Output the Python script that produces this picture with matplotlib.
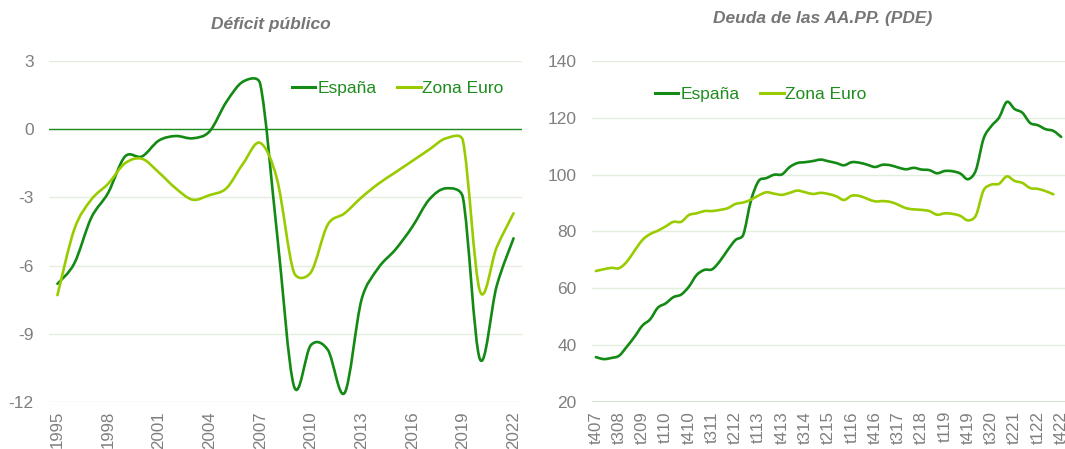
import numpy as np
import matplotlib
matplotlib.use("Agg")
import matplotlib.pyplot as plt
from matplotlib.path import Path
from matplotlib.patches import PathPatch
from matplotlib.lines import Line2D

# ---------------- data ----------------
years = [str(y) for y in range(1995, 2023)]
deficit_espana = [-6.8, -5.9, -3.9, -2.8, -1.2, -1.2, -0.5, -0.3, -0.4, -0.1,
                  1.2, 2.1, 2.0, -4.6, -11.3, -9.5, -9.7, -11.6, -7.5, -6.1,
                  -5.3, -4.3, -3.1, -2.6, -3.0, -10.1, -6.9, -4.8]
deficit_euro = [-7.3, -4.4, -3.1, -2.4, -1.5, -1.3, -1.9, -2.6, -3.1, -2.9,
                -2.6, -1.5, -0.6, -2.2, -6.3, -6.3, -4.2, -3.7, -3.0, -2.4,
                -1.9, -1.4, -0.9, -0.4, -0.5, -7.1, -5.2, -3.7]

quarters = ["t407"] + [f"t{q}{yy:02d}" for yy in range(8, 23) for q in (1, 2, 3, 4)]
deuda_espana = [35.8, 35.1, 35.5, 36.3, 39.5, 43.0, 46.9, 49.1, 53.2, 54.7,
                56.9, 57.8, 60.6, 64.7, 66.5, 66.7, 69.6, 73.5, 77.0, 78.8,
                90.9, 97.8, 98.8, 100.0, 100.1, 102.7, 104.1, 104.4, 104.8, 105.3,
                104.7, 104.1, 103.3, 104.4, 104.2, 103.5, 102.7, 103.5, 103.3, 102.5,
                101.9, 102.4, 101.8, 101.6, 100.5, 101.3, 101.2, 100.4, 98.4, 101.5,
                112.7, 117.1, 120.1, 125.6, 123.1, 121.8, 118.2, 117.4, 116.0, 115.4,
                113.3]
deuda_euro = [66.1, 66.7, 67.2, 67.1, 69.4, 73.3, 77.0, 79.1, 80.3, 81.8,
              83.4, 83.4, 85.8, 86.4, 87.2, 87.2, 87.6, 88.2, 89.7, 90.2,
              91.2, 92.7, 93.8, 93.3, 92.9, 93.6, 94.4, 93.8, 93.2, 93.6,
              93.2, 92.4, 91.1, 92.6, 92.5, 91.5, 90.6, 90.7, 90.4, 89.4,
              88.2, 87.8, 87.6, 87.2, 85.9, 86.4, 86.2, 85.5, 83.9, 85.6,
              94.5, 96.5, 96.8, 99.4, 97.8, 97.1, 95.3, 95.0, 94.2, 93.1]

series_names = ["España", "Zona Euro"]

# ---------------- style ----------------
C_ES = "#138A13"
C_EU = "#99CC00"
C_GRID = "#E3EEDC"
C_AXIS = "#1E8C1E"
C_TICK = "#7F7F7F"
C_TITLE = "#767676"
FONT = "Liberation Sans"
LW = 1.9

W, H = 1065, 449
fig = plt.figure(figsize=(W / 100, H / 100), dpi=100)


def smooth_path(values, sx, sy):
    """Excel-like smoothed line: Catmull-Rom Bezier handles (1/6 of the
    neighbour chord) capped at half the segment length, measured in pixels."""
    y = np.asarray(values, dtype=float)
    x = np.arange(len(y), dtype=float)
    scale = np.array([sx, sy])
    pts = np.column_stack([x, y]) * scale  # work in pixels
    n = len(pts)

    def handle(vec, seg_len):
        h = vec / 6.0
        L = float(np.hypot(*h))
        cap = seg_len / 2.0
        if L > cap and L > 0:
            h = h * (cap / L)
        return h

    verts = [pts[0]]
    codes = [Path.MOVETO]
    for i in range(n - 1):
        p0 = pts[i - 1] if i > 0 else pts[i]
        p1 = pts[i]
        p2 = pts[i + 1]
        p3 = pts[i + 2] if i + 2 < n else pts[i + 1]
        d12 = float(np.hypot(*(p2 - p1)))
        c1 = p1 + handle(p2 - p0, d12)
        c2 = p2 - handle(p3 - p1, d12)
        verts += [c1, c2, p2]
        codes += [Path.CURVE4] * 3
    return Path(np.array(verts) / scale, codes)


def add_series(ax, values, color, wpx, hpx, ylim):
    n = len(values)
    sx = wpx / n
    sy = hpx / (ylim[1] - ylim[0])
    patch = PathPatch(smooth_path(values, sx, sy), fill=False, edgecolor=color, lw=LW,
                      capstyle="round", joinstyle="round", zorder=3)
    ax.add_patch(patch)


def style_axes(ax, ncat, tick_idx, tick_labels, yticks, ylim, axis_y):
    ax.set_xlim(-0.5, ncat - 0.5)
    ax.set_ylim(*ylim)
    ax.set_yticks(yticks)
    ax.set_yticklabels([str(v) for v in yticks])
    ax.set_xticks(tick_idx)
    ax.set_xticklabels(tick_labels, rotation=90)
    for s in ax.spines.values():
        s.set_visible(False)
    ax.grid(axis="y", color=C_GRID, lw=1.0, zorder=0)
    ax.set_axisbelow(True)
    ax.axhline(axis_y, color=C_AXIS, lw=1.0, zorder=2)
    ax.tick_params(axis="both", length=0, labelcolor=C_TICK, labelsize=12.5)
    ax.tick_params(axis="y", pad=11)
    ax.tick_params(axis="x", pad=6.5, labelsize=12.2)
    for lab in ax.get_xticklabels() + ax.get_yticklabels():
        lab.set_fontfamily(FONT)


def px_rect(l, t, r, b):
    return [l / W, 1 - b / H, (r - l) / W, (b - t) / H]


# ---------------- left: Déficit público ----------------
L1 = (49, 61, 522, 402)
ax1 = fig.add_axes(px_rect(*L1))
ylim1 = (-12, 3)
add_series(ax1, deficit_espana, C_ES, L1[2] - L1[0], L1[3] - L1[1], ylim1)
add_series(ax1, deficit_euro, C_EU, L1[2] - L1[0], L1[3] - L1[1], ylim1)
idx1 = list(range(0, len(years), 3))
style_axes(ax1, len(years), idx1, [years[i] for i in idx1],
           [-12, -9, -6, -3, 0, 3], ylim1, 0)
fig.text(271 / W, 1 - 24 / H, "Déficit público", ha="center", va="center",
         fontsize=12.5, fontweight="bold", fontstyle="italic", color=C_TITLE,
         family=FONT)

# ---------------- right: Deuda de las AA.PP. ----------------
L2 = (592, 61, 1065, 402)
ax2 = fig.add_axes(px_rect(*L2))
ylim2 = (20, 140)
add_series(ax2, deuda_espana, C_ES, L2[2] - L2[0], L2[3] - L2[1], ylim2)
add_series(ax2, deuda_euro, C_EU, L2[2] - L2[0], L2[3] - L2[1], ylim2)
idx2 = list(range(0, len(quarters), 3))
style_axes(ax2, len(quarters), idx2, [quarters[i] for i in idx2],
           [20, 40, 60, 80, 100, 120, 140], ylim2, 20)
fig.text(823 / W, 1 - 18 / H, "Deuda de las AA.PP. (PDE)", ha="center", va="center",
         fontsize=12.5, fontweight="bold", fontstyle="italic", color=C_TITLE,
         family=FONT)

# ---------------- legends ----------------
handles = [Line2D([], [], color=C_ES, lw=2.2), Line2D([], [], color=C_EU, lw=2.2)]
for ax, (lx, ly) in ((ax1, (292, 88)), (ax2, (655, 94))):
    leg = ax.legend(handles, series_names, loc="center left",
                    bbox_to_anchor=(lx / W, 1 - ly / H), bbox_transform=fig.transFigure,
                    ncol=2, frameon=False, borderpad=0, borderaxespad=0,
                    handlelength=1.35, handletextpad=0.1, columnspacing=1.2,
                    prop={"family": FONT, "size": 12.5})
    for t in leg.get_texts():
        t.set_color(C_AXIS)

fig.savefig("out.png", dpi=100)
